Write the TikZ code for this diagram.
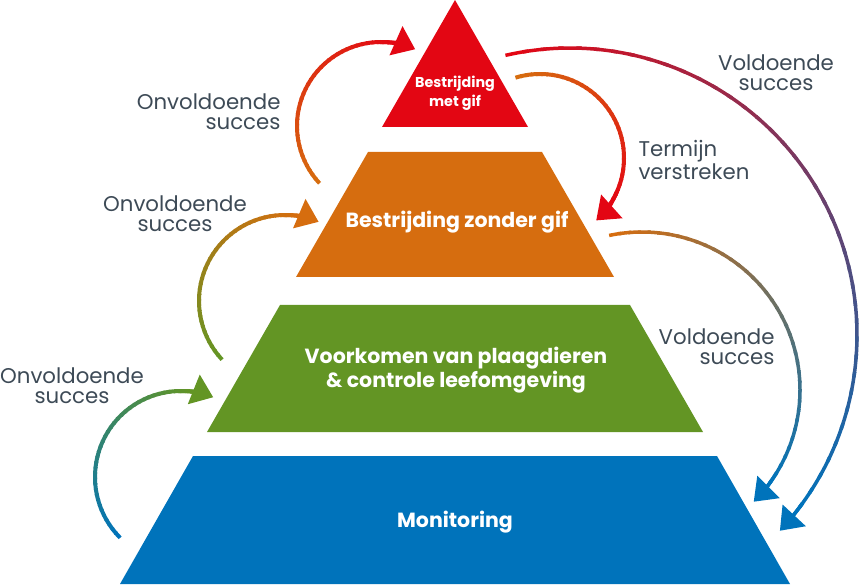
\documentclass[tikz,border=0pt]{standalone}
\usepackage{fontspec}
\setmainfont{Poppins}
\usepackage{xcolor}
\usepackage{tikz}
\usetikzlibrary{arrows.meta}

\definecolor{gifred}{HTML}{E30613}
\definecolor{zonderorange}{HTML}{D66D0F}
\definecolor{voorkomgreen}{HTML}{639524}
\definecolor{monitorblue}{HTML}{0073BB}
\definecolor{remarkgray}{HTML}{3D4A56}

\begin{document}
\begin{tikzpicture}[x=1pt, y=1pt]
	\tikzstyle{level} = [text=white, font=\bfseries\fontsize{20.5}{24}\selectfont, align=center]
	\tikzstyle{remark} = [text=remarkgray, font=\fontsize{21.3}{20}\selectfont]
	\tikzstyle{tip} = [-{Triangle[length=21pt, width=31pt]}]
	\useasboundingbox (0,0) rectangle (859,584);
	% Draw pyramid
	\fill [gifred] (382,457) -- (455,584) -- (528,457) -- cycle;
	\fill [zonderorange] (296,307) -- (368,432) -- (542,432) -- (614,307) -- cycle;
	\fill [voorkomgreen] (207,152) -- (280,279) -- (630,279) -- (703,152) -- cycle;
	\fill [monitorblue] (120,0) -- (193,128) -- (717,128) -- (790,0) -- cycle;
	% Place nodes
	\node [level, font=\bfseries\fontsize{14.3}{19}\selectfont] (gif) at (455,491) {Bestrijding\\met gif};
	\node [level] (zonder) at (457,362) {Bestrijding zonder gif};
	\node [level] (voorkomen) at (456,214) {Voorkomen van plaagdieren\\\& controle leefomgeving};
	\node [level] (monitoring) at (455,62) {Monitoring};
	\node [remark, align=center] (onv1) at (72,198) {Onvoldoende\\succes};
	\node [remark, align=center] (onv2) at (175,370) {Onvoldoende\\succes};
	\node [remark, align=right, anchor=east] (onv3) at (284,472) {Onvoldoende\\succes};
	\node [remark, align=left, anchor=west] (termijn) at (635,424) {Termijn\\verstreken};
	\node [remark, align=center] (vold1) at (776,511) {Voldoende\\succes};
	\node [remark, align=right, anchor=east] (vold2) at (778,237) {Voldoende\\succes};
	% Draw edges
	\foreach \cx/\cy/\r/\a/\b/\w/\from/\to [count=\n] in {
		181/107/86/225/68/4/monitorblue/voorkomgreen,
		285/283/86/223/67/4/voorkomgreen/zonderorange,
		381/458/84/223/66/4/zonderorange/gifred,
		540/426/84/107/-48/4/zonderorange/gifred,
		642/194/158/102/-45/3.5/zonderorange/monitorblue,
		570/249/287/103/-43/3.5/gifred/monitorblue}{
		\coordinate (c\n) at (\cx,\cy);
		\pgfmathsetmacro{\d}{1030/\r}
		\pgfmathsetmacro{\t}{\b+2*\d}
		\draw [tip, line width=\w pt, color=\to] ([shift={(\t:\r pt)}]c\n) arc (\t:\b:\r pt);
		\foreach \i in {0,...,39}{
			\pgfmathsetmacro{\s}{\a+(\b+\d-\a)*\i/40}
			\pgfmathsetmacro{\e}{\a+(\b+\d-\a)*(\i+1.3)/40}
			\pgfmathtruncatemacro{\p}{100-100*\i/39}
			\draw [line width=\w pt, color=\from!\p!\to] ([shift={(\s:\r pt)}]c\n) arc (\s:\e:\r pt);
		}
	}
\end{tikzpicture}
\end{document}
